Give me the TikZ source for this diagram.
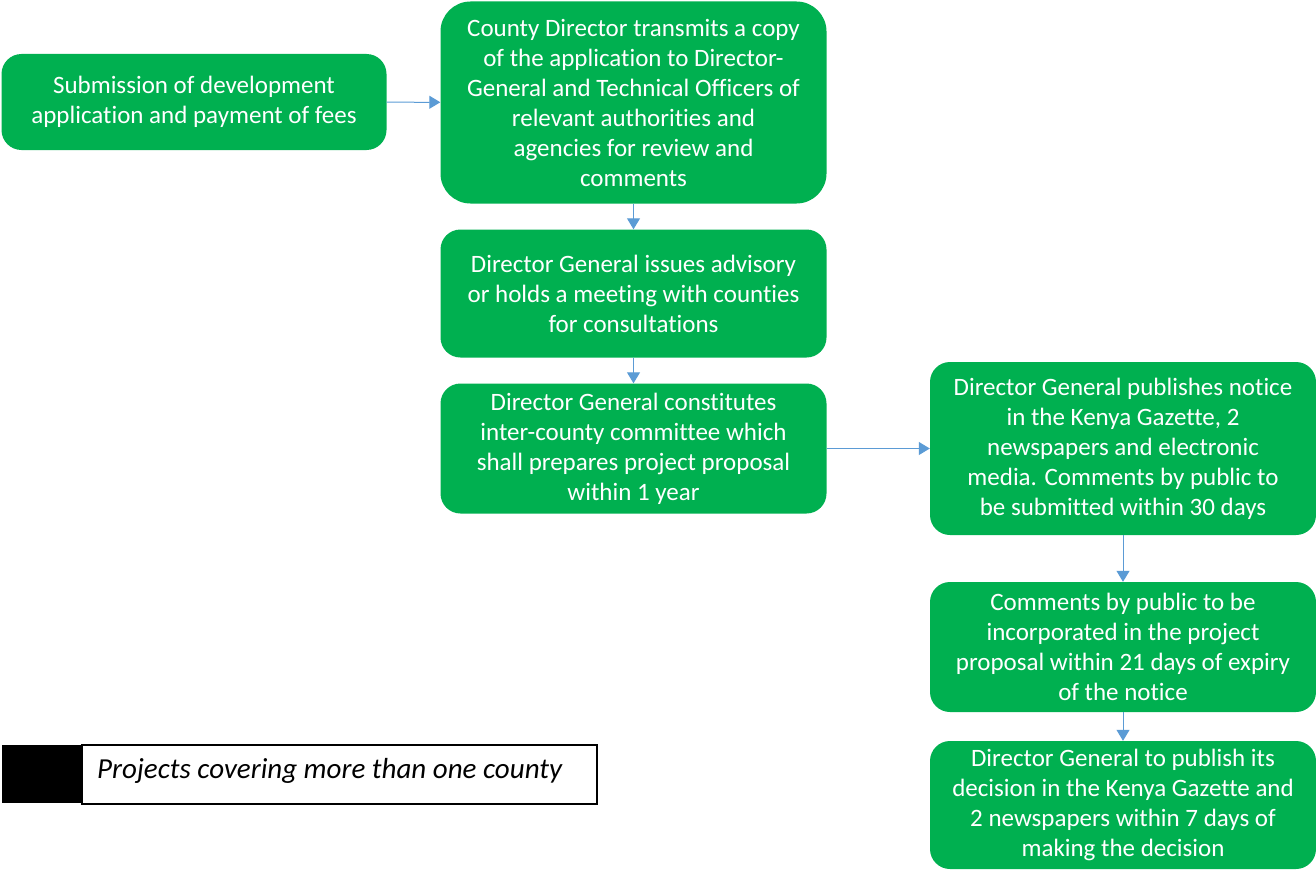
\documentclass[tikz,border=0pt]{standalone}
\usepackage{fontspec}
\setmainfont[Ligatures=NoCommon, RawFeature={-calt;-clig;-dlig}]{Carlito}
\usetikzlibrary{arrows.meta}
\definecolor{boxgreen}{HTML}{00B050}
\definecolor{arrowblue}{HTML}{5B9BD5}

\tikzset{
  stage/.style={fill=boxgreen, text=white, rounded corners=20pt, align=center,
    inner sep=0pt, font=\fontsize{25}{30}\selectfont},
  flow/.style={color=arrowblue, line width=1pt, -{Triangle[width=13pt,length=11pt]}}
}

\begin{document}
\begin{tikzpicture}[x=1pt, y=-1pt]
   \useasboundingbox (0,0) rectangle (1316,880);

   \node[stage, name=submit, minimum width=385pt, minimum height=96pt] at (194,102)
      {Submission of development\\application and payment of fees};
   \node[stage, name=transmit, minimum width=386pt, minimum height=202pt, rounded corners=30pt] at (633.5,102.5)
      {County Director transmits a copy\\of the application to Director-\\General and Technical Officers of\\relevant authorities and\\agencies for review and\\comments};
   \node[stage, name=advisory, minimum width=386pt, minimum height=128pt] at (633.5,293.5)
      {Director General issues advisory\\or holds a meeting with counties\\for consultations};
   \node[stage, name=committee, minimum width=386pt, minimum height=130pt] at (633.5,448.5)
      {Director General constitutes\\inter-county committee which\\shall prepares project proposal\\within 1 year};
   \node[stage, name=notice, minimum width=386pt, minimum height=173pt] at (1123,448.5)
      {Director General publishes notice\\in the Kenya Gazette, 2\\newspapers and electronic\\media. Comments by public to\\be submitted within 30 days};
   \node[stage, name=comments, minimum width=386pt, minimum height=130pt] at (1123,647)
      {Comments by public to be\\incorporated in the project\\proposal within 21 days of expiry\\of the notice};
   \node[stage, name=decision, minimum width=386pt, minimum height=128pt] at (1123,805)
      {Director General to publish its\\decision in the Kenya Gazette and\\2 newspapers within 7 days of\\making the decision};

   % legend
   \node[fill=black, name=key, minimum width=80pt, minimum height=58pt, inner sep=0pt] at (42,774) {};
   \node[draw=black, line width=1.5pt, name=keytext, minimum width=515pt, minimum height=59pt,
      inner sep=0pt] at (339.5,774.5) {};
   \node[name=keylabel, anchor=west, inner sep=0pt, font=\fontsize{29}{34}\selectfont\itshape] at (97,771)
      {Projects covering more than one county};

   \path[flow]
      (submit) edge (transmit)
      (transmit) edge (advisory)
      (advisory) edge (committee)
      (committee) edge (notice)
      (notice) edge (comments)
      (comments) edge (decision);
\end{tikzpicture}
\end{document}
